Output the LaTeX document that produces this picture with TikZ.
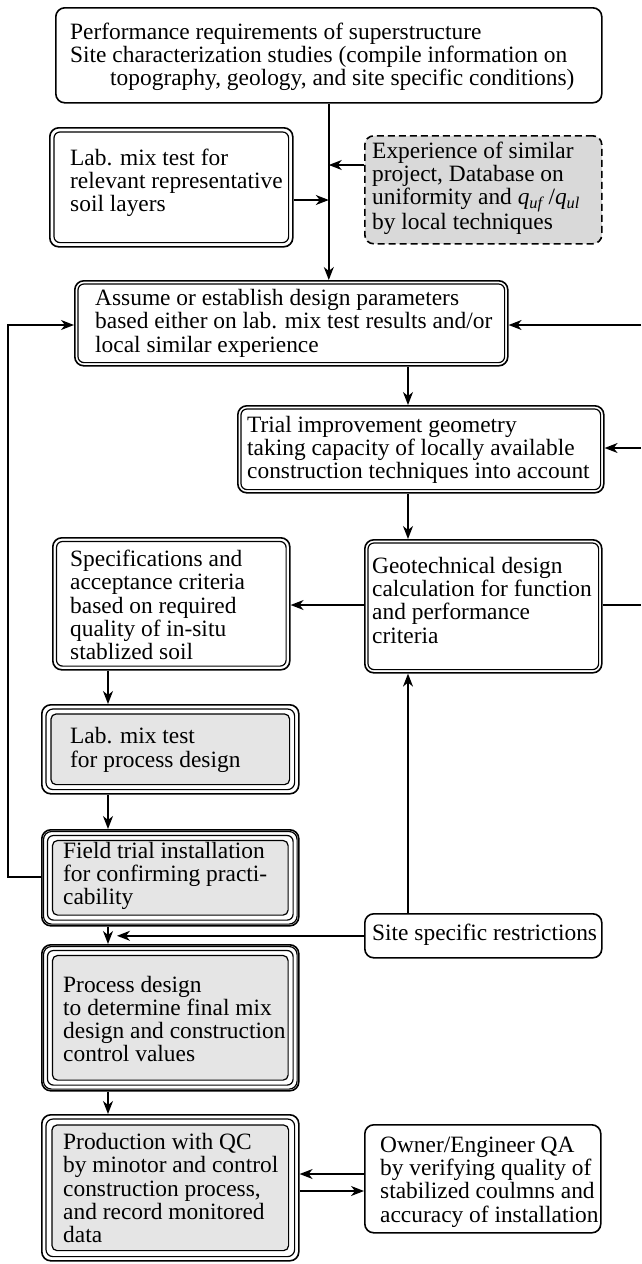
\documentclass[tikz,border=0pt]{standalone}
\usepackage{fontspec}
\setmainfont{Liberation Serif}
\usetikzlibrary{arrows.meta,backgrounds}

% extra frame drawn inside a box: [options]{node}{inset}{corner radius}
\newcommand\innerframe[4][]{%
  \draw[ring,rounded corners=#4,#1] ([shift={(#3,#3)}]#2.north west)
    rectangle ([shift={(-#3,-#3)}]#2.south east);}

\begin{document}
\begin{tikzpicture}[x=1pt,y=-1pt,
  frame/.style={draw,line width=1.6pt,rounded corners=9pt,inner sep=0pt,anchor=north west},
  ring/.style={draw,line width=1.2pt},
  txt/.style={align=left,inner sep=0pt,anchor=west,font=\fontsize{23.4}{23.3}\selectfont},
  link/.style={line width=1.4pt,-{Stealth[length=13pt,width=10pt,inset=4pt]}},
  plain/.style={line width=1.4pt},
  shade/.style={fill=black!10}]
\useasboundingbox (0,0) rectangle (641,1264);

% ---- boxes (outer frames) ----
\node[frame,minimum width=546pt,minimum height=95pt] (top) at (55,7) {};
\node[frame,minimum width=243pt,minimum height=119pt] (labmix) at (49,127) {};
\node[frame,minimum width=237pt,minimum height=108pt,fill=black!15,dash pattern=on 7pt off 4pt] (exp) at (364,135) {};
\node[frame,minimum width=433pt,minimum height=85pt] (assume) at (74,280) {};
\node[frame,minimum width=366pt,minimum height=87pt] (trial) at (237,405) {};
\node[frame,minimum width=237pt,minimum height=132pt] (specs) at (52,537) {};
\node[frame,minimum width=237pt,minimum height=133pt] (geotech) at (364,539) {};
\node[frame,minimum width=257pt,minimum height=89pt] (labproc) at (41,704) {};
\node[frame,minimum width=257pt,minimum height=96pt] (field) at (41,829) {};
\node[frame,minimum width=237pt,minimum height=44pt] (site) at (364,913) {};
\node[frame,minimum width=257pt,minimum height=146pt] (process) at (41,944) {};
\node[frame,minimum width=257pt,minimum height=146pt] (production) at (41,1114) {};
\node[frame,minimum width=236pt,minimum height=108pt] (owner) at (364,1124) {};

% ---- inner frames ----
\begin{pgfonlayer}{background}
  \innerframe{labmix}{5}{6pt}
  \innerframe{assume}{4}{6pt}
  \innerframe{trial}{4}{6pt}
  \innerframe{specs}{4.5}{6pt}
  \innerframe{geotech}{4}{6pt}
  \innerframe{labproc}{5}{7pt}
  \innerframe[shade]{labproc}{10}{5pt}
  \innerframe{field}{2.5}{8pt}
  \innerframe{field}{6.5}{6pt}
  \innerframe[shade]{field}{11.5}{5pt}
  \innerframe{process}{2.5}{8pt}
  \innerframe{process}{6.5}{6pt}
  \innerframe[shade]{process}{11.5}{5pt}
  \innerframe{production}{5}{7pt}
  \innerframe[shade]{production}{11}{5pt}
\end{pgfonlayer}

% ---- texts ----
\node[txt] (topT) at (70,56.7) {Performance requirements of superstructure\\
  Site characterization studies (compile information on\\
  \hspace*{40pt}topography, geology, and site specific conditions)};
\node[txt] (labmixT) at (70,182.7) {Lab. mix test for\\relevant representative\\soil layers};
\node[txt] (expT) at (372,188) {Experience of similar\\project, Database on\\
  uniformity and \textit{q}\textsubscript{\textit{uf}}\,/\textit{q}\textsubscript{\textit{ul}}\\by local techniques};
\node[txt] (assumeT) at (95,323.3) {Assume or establish design parameters\\
  based either on lab. mix test results and/or\\local similar experience};
\node[txt] (trialT) at (247,450) {Trial improvement geometry\\
  taking capacity of locally available\\construction techniques into account};
\node[txt] (specsT) at (70,605) {Specifications and\\acceptance criteria\\based on required\\
  quality of in-situ\\stablized soil};
\node[txt] (geotechT) at (372,600.3) {Geotechnical design\\calculation for function\\
  and performance\\criteria};
\node[txt] (labprocT) at (70,750) {Lab. mix test\\for process design};
\node[txt] (fieldT) at (63,876) {Field trial installation\\for confirming practi-\\cability};
\node[txt] (siteT) at (372,935) {Site specific restrictions};
\node[txt] (processT) at (63,1019) {Process design\\to determine final mix\\
  design and construction\\control values};
\node[txt] (productionT) at (63,1188) {Production with QC\\by minotor and control\\
  construction process,\\and record monitored\\data};
\node[txt] (ownerT) at (380,1182) {Owner/Engineer QA\\by verifying quality of\\
  stabilized coulmns and\\accuracy of installation};

% ---- helper rows and columns for connectors ----
\coordinate (r1) at (0,165);
\coordinate (r2) at (0,200);
\coordinate (r3) at (0,325);
\coordinate (r4) at (0,448);
\coordinate (r5) at (0,605);
\coordinate (r6) at (0,877);
\coordinate (r8) at (0,1174);
\coordinate (r9) at (0,1191);
\coordinate (cL) at (8,0);
\coordinate (cR) at (641,0);
\coordinate (c2) at (408,0);
\coordinate (c3) at (108,0);
\coordinate (tip) at (117,0);

% ---- connectors ----
\draw[link] (top.south) -- (top.south |- assume.north);
\draw[link] (labmix.east |- r2) -- (top.south |- r2);
\draw[link] (exp.west |- r1) -- (top.south |- r1);
\draw[link] (field.west |- r6) -- (cL |- r6) -- (cL |- r3) -- (assume.west |- r3);
\draw[link] (cR |- r3) -- (assume.east |- r3);
\draw[link] (c2 |- assume.south) -- (c2 |- trial.north);
\draw[link] (cR |- r4) -- (trial.east |- r4);
\draw[link] (c2 |- trial.south) -- (c2 |- geotech.north);
\draw[link] (geotech.west |- r5) -- (specs.east |- r5);
\draw[plain] (geotech.east |- r5) -- (cR |- r5);
\draw[link] (c3 |- specs.south) -- (c3 |- labproc.north);
\draw[link] (c3 |- labproc.south) -- (c3 |- field.north);
\draw[link] (c3 |- field.south) -- (c3 |- process.north);
\draw[link] (site.west) -- (tip |- site.west);
\draw[link] (c2 |- site.north) -- (c2 |- geotech.south);
\draw[link] (c3 |- process.south) -- (c3 |- production.north);
\draw[link] (owner.west |- r8) -- (production.east |- r8);
\draw[link] (production.east |- r9) -- (owner.west |- r9);
\end{tikzpicture}
\end{document}
